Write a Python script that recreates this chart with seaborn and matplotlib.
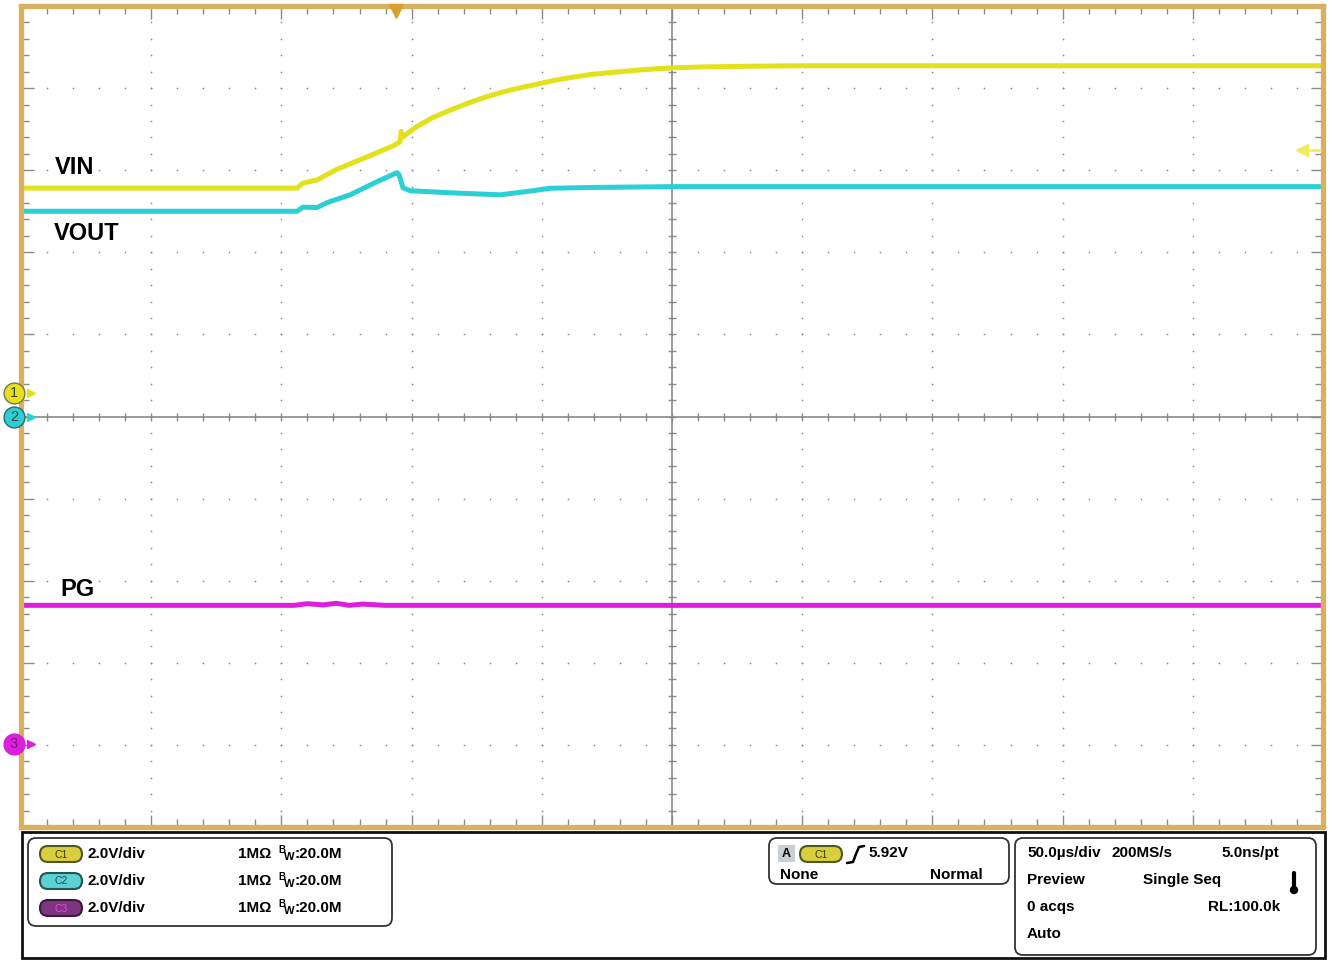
import numpy as np
import pandas as pd
import matplotlib
matplotlib.use("Agg")
import matplotlib.pyplot as plt
import matplotlib.transforms as mtransforms
from matplotlib.patches import FancyBboxPatch, Rectangle, Circle
import seaborn as sns

# ---------------- data (time in µs, voltage in V) ----------------
vin_t = [1, 88, 106, 108.3, 113.7, 121.4, 132.9, 142.9, 145.5, 146.0, 146.5, 148.2, 152.0,
         158.2, 164.8, 171.3, 177.5, 183.9, 190.0, 196.6, 203.0, 209.7, 219.0, 228.9, 240.0,
         250.4, 260.8, 280.0, 299.2, 499]
vin_v = [4.98, 4.98, 4.98, 5.10, 5.18, 5.44, 5.74, 6.01, 6.10, 6.36, 6.22, 6.30, 6.48,
         6.70, 6.88, 7.04, 7.18, 7.30, 7.40, 7.49, 7.58, 7.66, 7.75, 7.81, 7.87,
         7.91, 7.93, 7.95, 7.96, 7.96]

vout_t = [1, 106, 108.3, 113.7, 117.5, 126.4, 136.7, 144.4, 145.2, 146.7, 149.4, 164.8,
          183.9, 196.6, 203.1, 220.0, 250.4, 499]
vout_v = [5.00, 5.00, 5.10, 5.09, 5.21, 5.40, 5.72, 5.94, 5.89, 5.57, 5.50, 5.45,
          5.40, 5.50, 5.56, 5.58, 5.60, 5.60]

pg_t = [1, 105, 110, 116, 121, 126, 131, 140, 499]
pg_v = [3.38, 3.38, 3.42, 3.39, 3.43, 3.38, 3.41, 3.38, 3.38]

channels = ["VIN", "VOUT", "PG"]
volts_per_div = 2.0
trigger_level = 5.92
trigger_time = 144.0

# ---------------- styling / positions ----------------
W, H = 1333, 960
offsets = {"VIN": 0.292, "VOUT": 0.0, "PG": -3.99}   # ground level in divisions
colors = {"VIN": "#e3e01c", "VOUT": "#2bcfd6", "PG": "#dc1fdc"}
gold = "#d8b060"
grid_col = "#8a8a8a"

sns.set_style("white")
plt.rcParams["font.family"] = ["Liberation Sans", "DejaVu Sans"]
plt.rcParams["text.color"] = "black"

fig = plt.figure(figsize=(W / 100, H / 100), dpi=100)
fig.patch.set_facecolor("white")


def fx(x):
    return x / W


def fy(y):
    return 1 - y / H


ax = fig.add_axes([fx(21), fy(827), (1323 - 21) / W, (827 - 6) / H])
ax.set_xlim(0, 500)
ax.set_ylim(-5, 5)
ax.set_facecolor("white")

# graticule: dotted grid (dots at each 1/5 division on major lines)
xmaj = np.arange(0, 501, 50)
ymaj = np.arange(-5, 5.01, 1)
xmin = np.arange(0, 501, 10)
ymin = np.arange(-5, 5.01, 0.2)
gx, gy = np.meshgrid(xmaj[1:-1], ymin)
ax.scatter(gx.ravel(), gy.ravel(), s=1.5, color=grid_col, linewidths=0, zorder=1)
gx, gy = np.meshgrid(xmin, ymaj[1:-1])
ax.scatter(gx.ravel(), gy.ravel(), s=1.5, color=grid_col, linewidths=0, zorder=1)

# center crosshair with ticks
ax.axhline(0, color=grid_col, lw=1.2, zorder=1)
ax.axvline(250, color=grid_col, lw=1.2, zorder=1)
ax.scatter(xmin, np.zeros_like(xmin), marker="|", s=30, color=grid_col, linewidths=1, zorder=1)
ax.scatter(np.full_like(ymin, 250), ymin, marker="_", s=30, color=grid_col, linewidths=1, zorder=1)

# edge ticks
ax.set_xticks(xmaj)
ax.set_xticks(xmin, minor=True)
ax.set_yticks(ymaj)
ax.set_yticks(ymin, minor=True)
ax.tick_params(which="both", direction="in", length=6, width=1, color=grid_col,
               top=True, right=True, bottom=True, left=True,
               labelbottom=False, labelleft=False)
ax.tick_params(which="major", length=9)
for s in ax.spines.values():
    s.set_color(gold)
    s.set_linewidth(3.8)
    s.set_zorder(6)

# ---------------- traces ----------------
frames = []
for name, t, v in [("VIN", vin_t, vin_v), ("VOUT", vout_t, vout_v), ("PG", pg_t, pg_v)]:
    arr_v = np.asarray(v, dtype=float)
    frames.append(pd.DataFrame({"t": t, "div": arr_v / volts_per_div + offsets[name],
                                "ch": name}))
df = pd.concat(frames, ignore_index=True)
sns.lineplot(data=df, x="t", y="div", hue="ch", palette=colors, hue_order=channels,
             sort=False, estimator=None, lw=3.6, legend=False, ax=ax, zorder=3)

# channel labels
for lab, lx, ly in [("VIN", 55, 168), ("VOUT", 54, 233), ("PG", 60, 590)]:
    ax.text(fx(lx), fy(ly), lab, transform=fig.transFigure, fontsize=17, fontweight="bold",
            va="center", ha="left", color="black")

# ground markers on the left
blend = mtransforms.blended_transform_factory(fig.transFigure, ax.transData)
marker_edge = {"VIN": "#777755", "VOUT": "#336666", "PG": "#dc1fdc"}
for i, name in enumerate(channels):
    yv = offsets[name]
    ax.plot([fx(14)], [yv], marker="o", ms=15, mfc=colors[name], mec=marker_edge[name],
            mew=1.0, transform=blend, clip_on=False, zorder=8)
    ax.text(fx(14), yv, str(i + 1), transform=blend, fontsize=10.5, ha="center", va="center",
            color="#444444" if name != "PG" else "#7a1a7a", zorder=9, clip_on=False)
    ax.plot([fx(31)], [yv], marker=">", ms=6, color=colors[name], transform=blend,
            clip_on=False, zorder=8)

# trigger level arrow on right
ax.plot([fx(1302)], [trigger_level / volts_per_div + offsets["VIN"]], marker="<", ms=9,
        color="#f0ec60", transform=blend, clip_on=False, zorder=8)
ax.plot([fx(1305), fx(1320)], [trigger_level / volts_per_div + offsets["VIN"]] * 2,
        color="#f0ec60", lw=2, transform=blend, clip_on=False, zorder=8)

# trigger position marker at top
blend2 = mtransforms.blended_transform_factory(ax.transData, fig.transFigure)
ax.plot([trigger_time], [fy(11)], marker="v", ms=10, color="#d9a030", transform=blend2,
        clip_on=False, zorder=9)

# ---------------- bottom info panel (overlay in pixel coords) ----------------
ov = fig.add_axes([0, 0, 1, 1])
ov.set_xlim(0, W)
ov.set_ylim(H, 0)
ov.axis("off")
ov.patch.set_alpha(0)

ov.add_patch(Rectangle((22, 832), 1303, 126, fill=False, ec="#111111", lw=2))


def rbox(x0, y0, x1, y1):
    ov.add_patch(FancyBboxPatch((x0, y0), x1 - x0, y1 - y0,
                                boxstyle="round,pad=0,rounding_size=8",
                                fill=False, ec="#333333", lw=1.3))


rbox(28, 838, 392, 926)
rbox(769, 838, 1009, 884)
rbox(1015, 838, 1316, 955)


def badge(xc, yc, label, fc, ec, tc):
    ov.add_patch(FancyBboxPatch((xc - 21, yc - 8), 42, 16,
                                boxstyle="round,pad=0,rounding_size=8",
                                fc=fc, ec=ec, lw=1.5))
    ov.text(xc, yc + 0.5, label, fontsize=7.5, ha="center", va="center", color=tc)


fs = 11
badge_styles = [("C1", "#d8cf3c", "#555522", "#3a3a10"),
                ("C2", "#5cd0d2", "#225555", "#1d4b5a"),
                ("C3", "#7d357d", "#3a1a3a", "#f040f0")]
for i, (lab, fc, ec, tc) in enumerate(badge_styles):
    yc = 854 + 27 * i
    badge(61, yc, lab, fc, ec, tc)
    ov.text(88, yc, "2.0V/div", fontsize=fs, fontweight="bold", va="center", ha="left")
    ov.text(238, yc, "1MΩ", fontsize=fs, fontweight="bold", va="center", ha="left")
    ov.text(278, yc - 4, "B", fontsize=7, fontweight="bold", va="center", ha="left")
    ov.text(284, yc + 3, "W", fontsize=8, fontweight="bold", va="center", ha="left")
    ov.text(295, yc, ":20.0M", fontsize=fs, fontweight="bold", va="center", ha="left")

# trigger box
ov.add_patch(Rectangle((778, 845), 17, 17, fc="#c8d0d4", ec="none"))
ov.text(786.5, 854, "A", fontsize=9, fontweight="bold", ha="center", va="center")
badge(821, 854, "C1", "#d8cf3c", "#555522", "#3a3a10")
ov.plot([847, 853, 856, 859, 864], [863, 862, 854, 847, 846], color="black", lw=1.8)
ov.text(868, 853, "5.92V", fontsize=fs, fontweight="bold", va="center", ha="left")
ov.text(780, 875, "None", fontsize=fs, fontweight="bold", va="center", ha="left")
ov.text(930, 875, "Normal", fontsize=fs, fontweight="bold", va="center", ha="left")

# acquisition box
ov.text(1027, 853, "50.0µs/div", fontsize=fs, fontweight="bold", va="center", ha="left")
ov.text(1111, 853, "200MS/s", fontsize=fs, fontweight="bold", va="center", ha="left")
ov.text(1221, 853, "5.0ns/pt", fontsize=fs, fontweight="bold", va="center", ha="left")
ov.text(1027, 880, "Preview", fontsize=fs, fontweight="bold", va="center", ha="left")
ov.text(1143, 880, "Single Seq", fontsize=fs, fontweight="bold", va="center", ha="left")
ov.text(1027, 907, "0 acqs", fontsize=fs, fontweight="bold", va="center", ha="left")
ov.text(1208, 907, "RL:100.0k", fontsize=fs, fontweight="bold", va="center", ha="left")
ov.text(1027, 934, "Auto", fontsize=fs, fontweight="bold", va="center", ha="left")
# thermometer icon
ov.plot([1294, 1294], [873, 889], color="black", lw=3, solid_capstyle="round")
ov.add_patch(Circle((1294, 890), 3.5, color="black"))

fig.savefig("out.png", dpi=100, facecolor="white")
